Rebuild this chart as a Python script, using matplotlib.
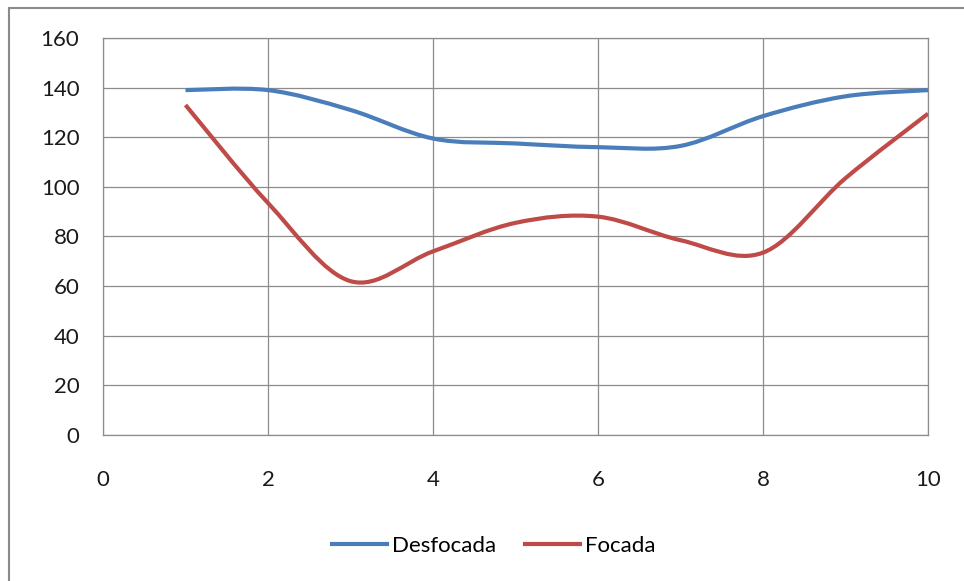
import matplotlib
matplotlib.use("Agg")
import matplotlib.pyplot as plt
import numpy as np
from matplotlib.path import Path
from matplotlib.patches import PathPatch, Rectangle
from matplotlib.lines import Line2D

plt.rcParams['font.family'] = ['Lato', 'DejaVu Sans']

# measurements per frame
frames = [1, 2, 3, 4, 5, 6, 7, 8, 9, 10]
desfocada = [139, 139, 131, 119.5, 117.5, 116, 116.5, 128.5, 136.5, 139]
focada = [133, 93.5, 62, 74, 85.5, 88, 78.5, 73.5, 103.5, 129.5]

BLUE = '#4A7EBB'
RED = '#BE4B48'
GRID = '#8C8C8C'


def smooth_path(xs, ys):
    # cubic bezier through every point, Catmull-Rom style tangents
    pts = np.column_stack([xs, ys]).astype(float)
    n = len(pts)
    verts = [pts[0]]
    codes = [Path.MOVETO]
    for i in range(n - 1):
        p0 = pts[max(i - 1, 0)]
        p1 = pts[i]
        p2 = pts[i + 1]
        p3 = pts[min(i + 2, n - 1)]
        c1 = p1 + (p2 - p0) / 6.0
        c2 = p2 - (p3 - p1) / 6.0
        verts += [c1, c2, p2]
        codes += [Path.CURVE4] * 3
    return Path(verts, codes)


fig = plt.figure(figsize=(9.64, 5.81), dpi=100)
ax = fig.add_axes([103 / 964, 146 / 581, 825 / 964, 397 / 581])

for ys, col in [(desfocada, BLUE), (focada, RED)]:
    patch = PathPatch(smooth_path(frames, ys), facecolor='none', edgecolor=col,
                      lw=3.0, capstyle='butt', zorder=3)
    ax.add_patch(patch)

ax.set_xlim(0, 10)
ax.set_ylim(0, 160)
ax.set_xticks(np.arange(0, 11, 2))
ax.set_yticks(np.arange(0, 161, 20))
ax.grid(True, color=GRID, lw=0.9)
ax.set_axisbelow(True)
for s in ax.spines.values():
    s.set_color(GRID)
    s.set_linewidth(0.9)
ax.tick_params(length=0, labelsize=16, colors='#1a1a1a')
ax.tick_params(axis='x', pad=25)
ax.tick_params(axis='y', pad=17)

handles = [Line2D([], [], color=BLUE, lw=3.0), Line2D([], [], color=RED, lw=3.0)]
fig.legend(handles, ['Desfocada', 'Focada'], loc='center', ncol=2,
           bbox_to_anchor=(494 / 964, 1 - 546 / 581), frameon=False,
           fontsize=16, handlelength=2.45, handletextpad=0.25, columnspacing=1.3)

# chart area frame
fig.patches.append(Rectangle((9 / 964, -0.1), 1.2, 0.1 + 573 / 581,
                             transform=fig.transFigure, fill=False,
                             edgecolor='#8A8A8A', lw=1.5))

fig.savefig('out.png', dpi=100)
